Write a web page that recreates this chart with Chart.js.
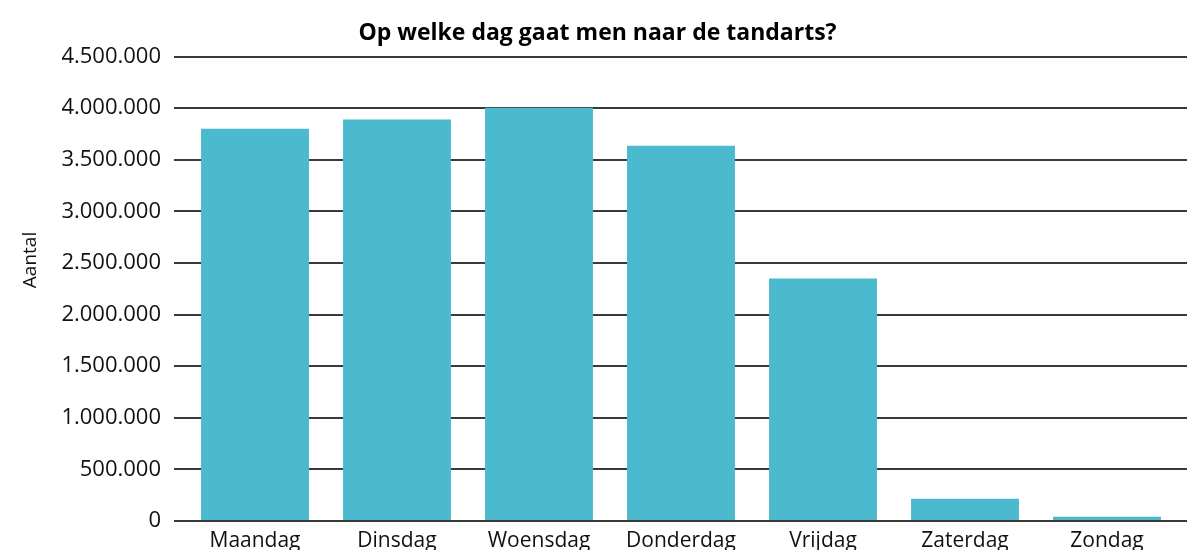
<!DOCTYPE html>
<html>
<head>
<meta charset="utf-8">
<script src="https://cdn.jsdelivr.net/npm/chart.js@4/dist/chart.umd.min.js"></script>
<style>
  html, body { margin: 0; padding: 0; background: #fff; overflow: hidden; }
  #wrap { width: 1195px; height: 580px; }
</style>
</head>
<body>
<div id="wrap"><canvas id="dayChart"></canvas></div>
<script>
// Data
const days = ['Maandag', 'Dinsdag', 'Woensdag', 'Donderdag', 'Vrijdag', 'Zaterdag', 'Zondag'];
const visits = [3800000, 3890000, 4005000, 3635000, 2350000, 215000, 40000];
const yTicks = [0, 500000, 1000000, 1500000, 2000000, 2500000, 3000000, 3500000, 4000000, 4500000];

const FONT = "'Open Sans', sans-serif";
const GRID = '#3a3a3a';

// Dutch thousands separator
function formatNl(v) {
  return String(v).replace(/\B(?=(\d{3})+(?!\d))/g, '.');
}

// y-axis title sits a little above the plot centre in the reference
const axisTitle = {
  id: 'axisTitle',
  afterDraw(chart) {
    const c = chart.ctx;
    c.save();
    c.translate(31, 260);
    c.rotate(-Math.PI / 2);
    c.font = "19px " + FONT;
    c.fillStyle = '#111';
    c.textAlign = 'center';
    c.textBaseline = 'middle';
    c.fillText('Aantal', 0, 0);
    c.restore();
  }
};

const ctx = document.getElementById('dayChart').getContext('2d');
const dayChart = new Chart(ctx, {
  type: 'bar',
  data: {
    labels: days,
    datasets: [{
      label: 'Aantal',
      data: visits,
      backgroundColor: '#4bbace',
      borderWidth: 0,
      categoryPercentage: 1,
      barPercentage: 0.76
    }]
  },
  options: {
    responsive: true,
    maintainAspectRatio: false,
    animation: false,
    layout: { padding: 0 },
    plugins: {
      legend: { display: false },
      tooltip: { enabled: false },
      title: {
        display: true,
        text: 'Op welke dag gaat men naar de tandarts?',
        color: '#000',
        font: { family: FONT, size: 23, weight: 'bold', lineHeight: 1.2 },
        padding: { top: 20, bottom: 9 }
      }
    },
    scales: {
      x: {
        grid: { display: false, drawTicks: false },
        border: { display: false },
        ticks: { color: '#111', font: { family: FONT, size: 21 }, padding: 7, maxRotation: 0, autoSkip: false },
        afterFit(scale) { scale.height = 59; }
      },
      y: {
        min: 0,
        max: 4500000,
        afterBuildTicks(scale) { scale.ticks = yTicks.map(v => ({ value: v })); },
        afterFit(scale) { scale.width = 184; },
        grid: { color: GRID, lineWidth: 2, drawTicks: true, tickLength: 10 },
        border: { display: false },
        ticks: {
          color: '#111',
          padding: 13,
          font: { family: FONT, size: 22 },
          callback: v => formatNl(v)
        }
      },
      yRight: {
        position: 'right',
        min: 0,
        max: 4500000,
        afterBuildTicks(scale) { scale.ticks = yTicks.map(v => ({ value: v })); },
        afterFit(scale) { scale.width = 17; },
        grid: { color: GRID, lineWidth: 2, drawOnChartArea: false, drawTicks: true, tickLength: 9 },
        border: { display: false },
        ticks: { display: false }
      }
    }
  },
  plugins: [axisTitle]
});
</script>
</body>
</html>
